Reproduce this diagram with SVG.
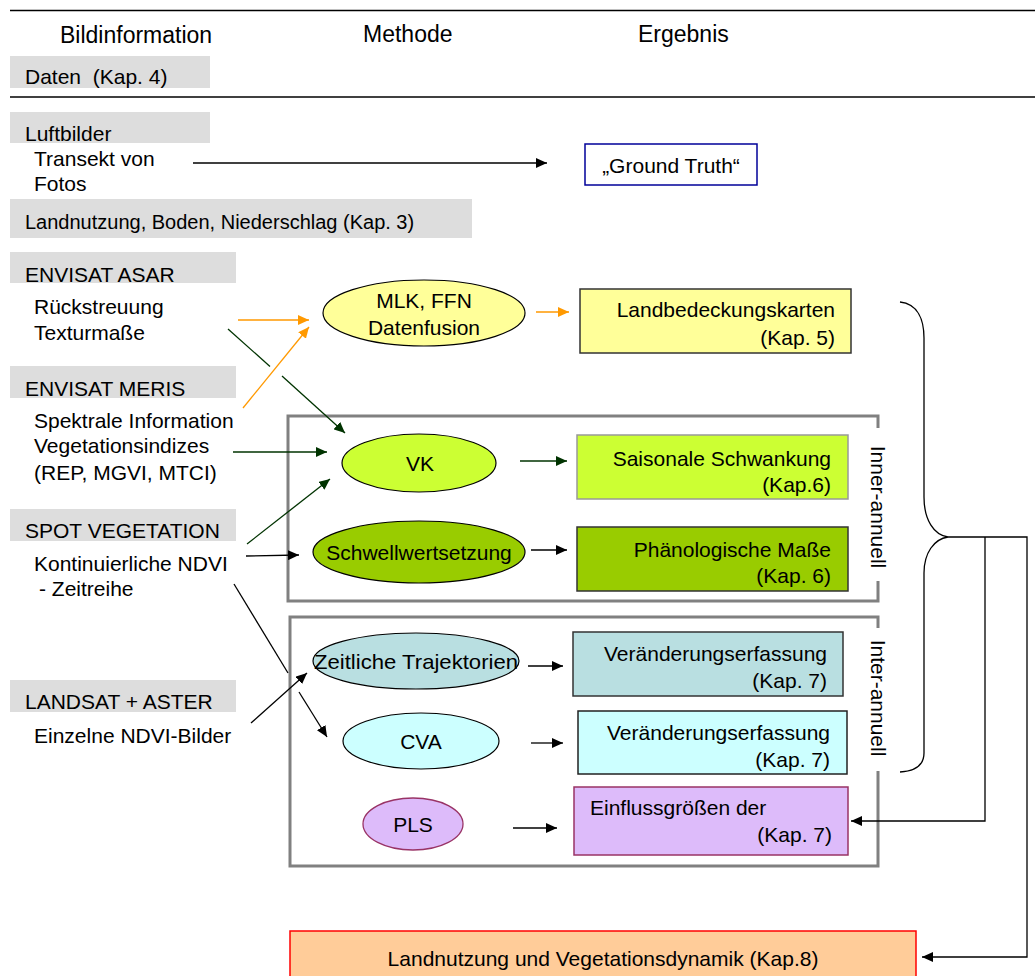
<svg xmlns="http://www.w3.org/2000/svg" width="1035" height="976" viewBox="0 0 1035 976">
<style>
text{font-family:"Liberation Sans",Arial,sans-serif;font-size:21px;fill:#000;white-space:pre}
.h{font-size:23px}
.band{fill:#dddddd}
.ln{fill:none;stroke-width:1.3}
.k{stroke:#000}
.g{stroke:#003300}
.o{stroke:#ff9900}
.frame{fill:none;stroke:#808080;stroke-width:3}
.e{stroke:#000;stroke-width:1.2}
.r{text-anchor:end}
.m{text-anchor:middle}
</style>
<defs>
<marker id="ak" markerUnits="userSpaceOnUse" markerWidth="11" markerHeight="10" refX="11" refY="5" orient="auto"><path d="M0,0 L11,5 L0,10 z" fill="#000"/></marker>
<marker id="ag" markerUnits="userSpaceOnUse" markerWidth="11" markerHeight="10" refX="11" refY="5" orient="auto"><path d="M0,0 L11,5 L0,10 z" fill="#003300"/></marker>
<marker id="ao" markerUnits="userSpaceOnUse" markerWidth="11" markerHeight="10" refX="11" refY="5" orient="auto"><path d="M0,0 L11,5 L0,10 z" fill="#ff9900"/></marker>
</defs>
<rect width="1035" height="976" fill="#fff"/>

<g id="header">
<line x1="10" y1="10.5" x2="1035" y2="10.5" stroke="#000" stroke-width="1.5"/>
<line x1="10" y1="97" x2="1035" y2="97" stroke="#000" stroke-width="1.5"/>
<text class="h" x="60" y="43">Bildinformation</text>
<text class="h" x="363" y="42">Methode</text>
<text class="h" x="638" y="42">Ergebnis</text>
</g>

<g id="daten"><rect class="band" x="10" y="56" width="200" height="32"/><text x="25" y="84" xml:space="preserve">Daten  (Kap. 4)</text></g>
<g id="luftbilder"><rect class="band" x="10" y="112" width="200" height="31"/><text x="25" y="141">Luftbilder</text>
<text x="34" y="166">Transekt von</text><text x="34" y="191">Fotos</text></g>
<g id="landnutzung"><rect class="band" x="10" y="199" width="462" height="39"/><text x="25" y="229" style="font-size:20px">Landnutzung, Boden, Niederschlag (Kap. 3)</text></g>
<g id="asar"><rect class="band" x="10" y="252" width="226" height="31"/><text x="25" y="282">ENVISAT ASAR</text>
<text x="34" y="314">Rückstreuung</text><text x="34" y="340">Texturmaße</text></g>
<g id="meris"><rect class="band" x="10" y="366" width="226" height="32"/><text x="25" y="396">ENVISAT MERIS</text>
<text x="34" y="428">Spektrale Information</text><text x="34" y="453">Vegetationsindizes</text><text x="34" y="480">(REP, MGVI, MTCI)</text></g>
<g id="spot"><rect class="band" x="10" y="509" width="226" height="32"/><text x="25" y="538">SPOT VEGETATION</text>
<text x="34" y="571">Kontinuierliche NDVI</text><text x="39" y="596">- Zeitreihe</text></g>
<g id="landsat"><rect class="band" x="10" y="680" width="226" height="32"/><text x="25" y="709">LANDSAT + ASTER</text>
<text x="34" y="743">Einzelne NDVI-Bilder</text></g>

<g id="frames">
<path class="frame" d="M878,428 V416 H288 V601 H878 V581"/>
<path class="frame" d="M878,628 V617 H290 V866 H878 V771"/>
<text transform="translate(878,507) rotate(90)" class="m" y="7">Inner-annuell</text>
<text transform="translate(878,698) rotate(90)" class="m" y="7">Inter-annuell</text>
</g>

<g id="groundtruth"><rect x="585" y="144" width="172" height="41" fill="#fff" stroke="#000099" stroke-width="1.5"/><text class="m" x="671" y="173">„Ground Truth“</text></g>

<g id="mlk"><ellipse cx="424" cy="313" rx="101" ry="33" fill="#ffff99" class="e"/><text class="m" x="424" y="308">MLK, FFN</text><text class="m" x="424" y="335">Datenfusion</text></g>
<g id="landbedeckung"><rect x="580" y="289" width="271" height="64" fill="#ffff99" stroke="#333" stroke-width="1.5"/><text class="r" x="835" y="317">Landbedeckungskarten</text><text class="r" x="835" y="345">(Kap. 5)</text></g>

<g id="vk"><ellipse cx="419" cy="463" rx="77" ry="29" fill="#ccff33" class="e"/><text class="m" x="420" y="471">VK</text></g>
<g id="saisonal"><rect x="577" y="435" width="271" height="64" fill="#ccff33" stroke="#999" stroke-width="1.5"/><text class="r" x="831" y="466">Saisonale Schwankung</text><text class="r" x="831" y="492">(Kap.6)</text></g>

<g id="schwell"><ellipse cx="419" cy="552" rx="106" ry="31" fill="#99cc00" class="e"/><text class="m" x="419" y="560">Schwellwertsetzung</text></g>
<g id="phaeno"><rect x="577" y="527" width="271" height="64" fill="#99cc00" stroke="#333" stroke-width="1.5"/><text class="r" x="831" y="557">Phänologische Maße</text><text class="r" x="831" y="583">(Kap. 6)</text></g>

<g id="zeitlich"><ellipse cx="416" cy="661" rx="103" ry="28" fill="#b9dfe1" class="e"/><text class="m" x="416" y="669" textLength="204" lengthAdjust="spacingAndGlyphs">Zeitliche Trajektorien</text></g>
<g id="veraend1"><rect x="573" y="632" width="270" height="64" fill="#b9dfe1" stroke="#333" stroke-width="1.5"/><text class="r" x="827" y="661">Veränderungserfassung</text><text class="r" x="827" y="688">(Kap. 7)</text></g>

<g id="cva"><ellipse cx="421" cy="741" rx="78" ry="28" fill="#ccffff" class="e"/><text class="m" x="421" y="749">CVA</text></g>
<g id="veraend2"><rect x="578" y="711" width="269" height="63" fill="#ccffff" stroke="#222" stroke-width="1.5"/><text class="r" x="830" y="740">Veränderungserfassung</text><text class="r" x="830" y="767">(Kap. 7)</text></g>

<g id="pls"><ellipse cx="413" cy="824" rx="50" ry="26" fill="#ddbbfa" stroke="#993366" stroke-width="1.3"/><text class="m" x="413" y="832">PLS</text></g>
<g id="einfluss"><rect x="574" y="787" width="274" height="68" fill="#ddbbfa" stroke="#993366" stroke-width="1.5"/><text x="590" y="815">Einflussgrößen der</text><text class="r" x="832" y="842">(Kap. 7)</text></g>

<g id="dynamik"><rect x="290" y="931" width="626" height="60" fill="#ffcc99" stroke="#ff0000" stroke-width="1.5"/><text class="m" x="603" y="966">Landnutzung und Vegetationsdynamik (Kap.8)</text></g>

<g id="connectors">
<line class="ln k" x1="193" y1="163" x2="547" y2="163" marker-end="url(#ak)"/>
<line class="ln g" x1="228" y1="329" x2="270" y2="366.5"/>
<line class="ln g" x1="282" y1="376" x2="345" y2="433" marker-end="url(#ag)"/>
<line class="ln o" x1="238" y1="320" x2="309" y2="320" marker-end="url(#ao)"/>
<line class="ln o" x1="243" y1="408" x2="309" y2="327" marker-end="url(#ao)"/>
<line class="ln o" x1="536" y1="312" x2="569" y2="312" marker-end="url(#ao)"/>
<line class="ln g" x1="233" y1="452" x2="327" y2="452" marker-end="url(#ag)"/>
<line class="ln g" x1="247" y1="544" x2="330" y2="479" marker-end="url(#ag)"/>
<line class="ln k" x1="246" y1="556" x2="299" y2="555" marker-end="url(#ak)"/>
<line class="ln k" x1="234" y1="584" x2="288" y2="673"/>
<line class="ln k" x1="299" y1="692" x2="327" y2="737" marker-end="url(#ak)"/>
<line class="ln k" x1="251" y1="723" x2="307" y2="673" marker-end="url(#ak)"/>
<line class="ln g" x1="520" y1="461" x2="567" y2="461" marker-end="url(#ag)"/>
<line class="ln k" x1="531" y1="550" x2="567" y2="550" marker-end="url(#ak)"/>
<line class="ln k" x1="528" y1="666" x2="563" y2="666" marker-end="url(#ak)"/>
<line class="ln k" x1="531" y1="743" x2="563" y2="743" marker-end="url(#ak)"/>
<line class="ln k" x1="513" y1="828" x2="557" y2="828" marker-end="url(#ak)"/>
<path class="ln k" d="M900,302 C918,304 924,320 924,338 L924,497 C924,520 934,535 948,537 C934,539 924,553 924,573 L924,753 C924,765 916,771 900,772"/>
<path class="ln k" d="M948,537 H1027 V957 H922" marker-end="url(#ak)"/>
<path class="ln k" d="M985,537 V821 H851" marker-end="url(#ak)"/>
</g>
</svg>
